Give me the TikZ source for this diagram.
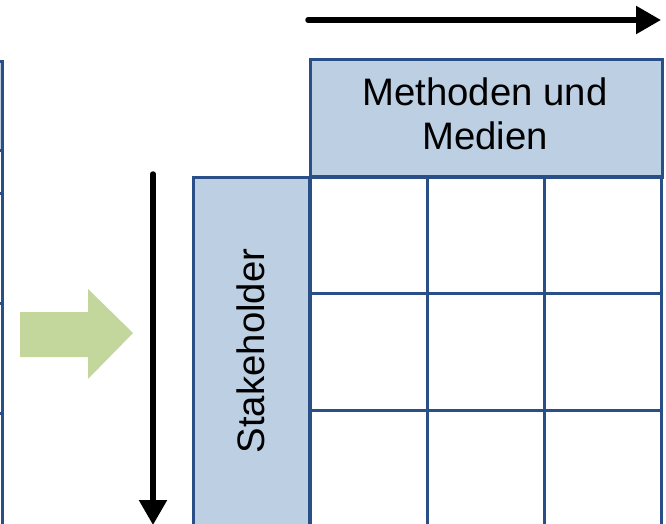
\documentclass[tikz,border=0pt]{standalone}
\usepackage{fontspec}
\setmainfont{Liberation Sans}
\usetikzlibrary{arrows.meta}
\definecolor{gridblue}{HTML}{2A4E86}
\definecolor{headfill}{HTML}{BCCFE3}
\definecolor{arrowgreen}{HTML}{C3D69B}
\tikzset{
  gridline/.style={draw=gridblue, line width=3pt},
  headbox/.style={gridline, fill=headfill, inner sep=0pt, minimum width=352pt, minimum height=118pt},
  headtext/.style={font=\fontsize{38.3}{44}\selectfont, align=center},
  flowarrow/.style={line width=5.5pt, line cap=round, -{Triangle[length=25pt,width=27pt]}},
}
\begin{document}
\begin{tikzpicture}[x=1pt,y=-1pt]
\useasboundingbox (0,0) rectangle (666,524);
\clip (0,0) rectangle (666,524);
\fill[white] (0,0) rectangle (666,524);

% right edge of the preceding matrix
\fill[headfill] (-60,62) rectangle (2,150);
\draw[gridline] (-60,62) -- (2,62) -- (2,560);
\foreach \y in {150,193,303,413} \draw[gridline] (-60,\y) -- (2,\y);

% transition arrow
\fill[arrowgreen] (20,312) -- (88,312) -- (88,289) -- (133,333) -- (88,379) -- (88,357) -- (20,357) -- cycle;

% header row and header column
\node[headbox, anchor=north west] (methods) at (309,58) {};
\node[headtext] (methodslabel) at (485,114) {Methoden und\\Medien};
\node[gridline, fill=headfill, inner sep=0pt, minimum width=117pt, minimum height=400pt, anchor=north west] (stake) at (192,176) {};
\node[headtext, rotate=90] (stakelabel) at (250.5,351) {Stakeholder};

% matrix cells
\foreach \x in {309,427,544,661} \draw[gridline] (\x,176) -- (\x,580);
\foreach \y in {176,293,410} \draw[gridline] (309,\y) -- (661,\y);

% direction arrows
\coordinate (topstart) at (308,20);
\coordinate (topend) at (661,20);
\draw[flowarrow] (topstart) -- (topend);
\coordinate (downstart) at (153,174);
\coordinate (downend) at (153,525);
\draw[flowarrow] (downstart) -- (downend);
\end{tikzpicture}
\end{document}
